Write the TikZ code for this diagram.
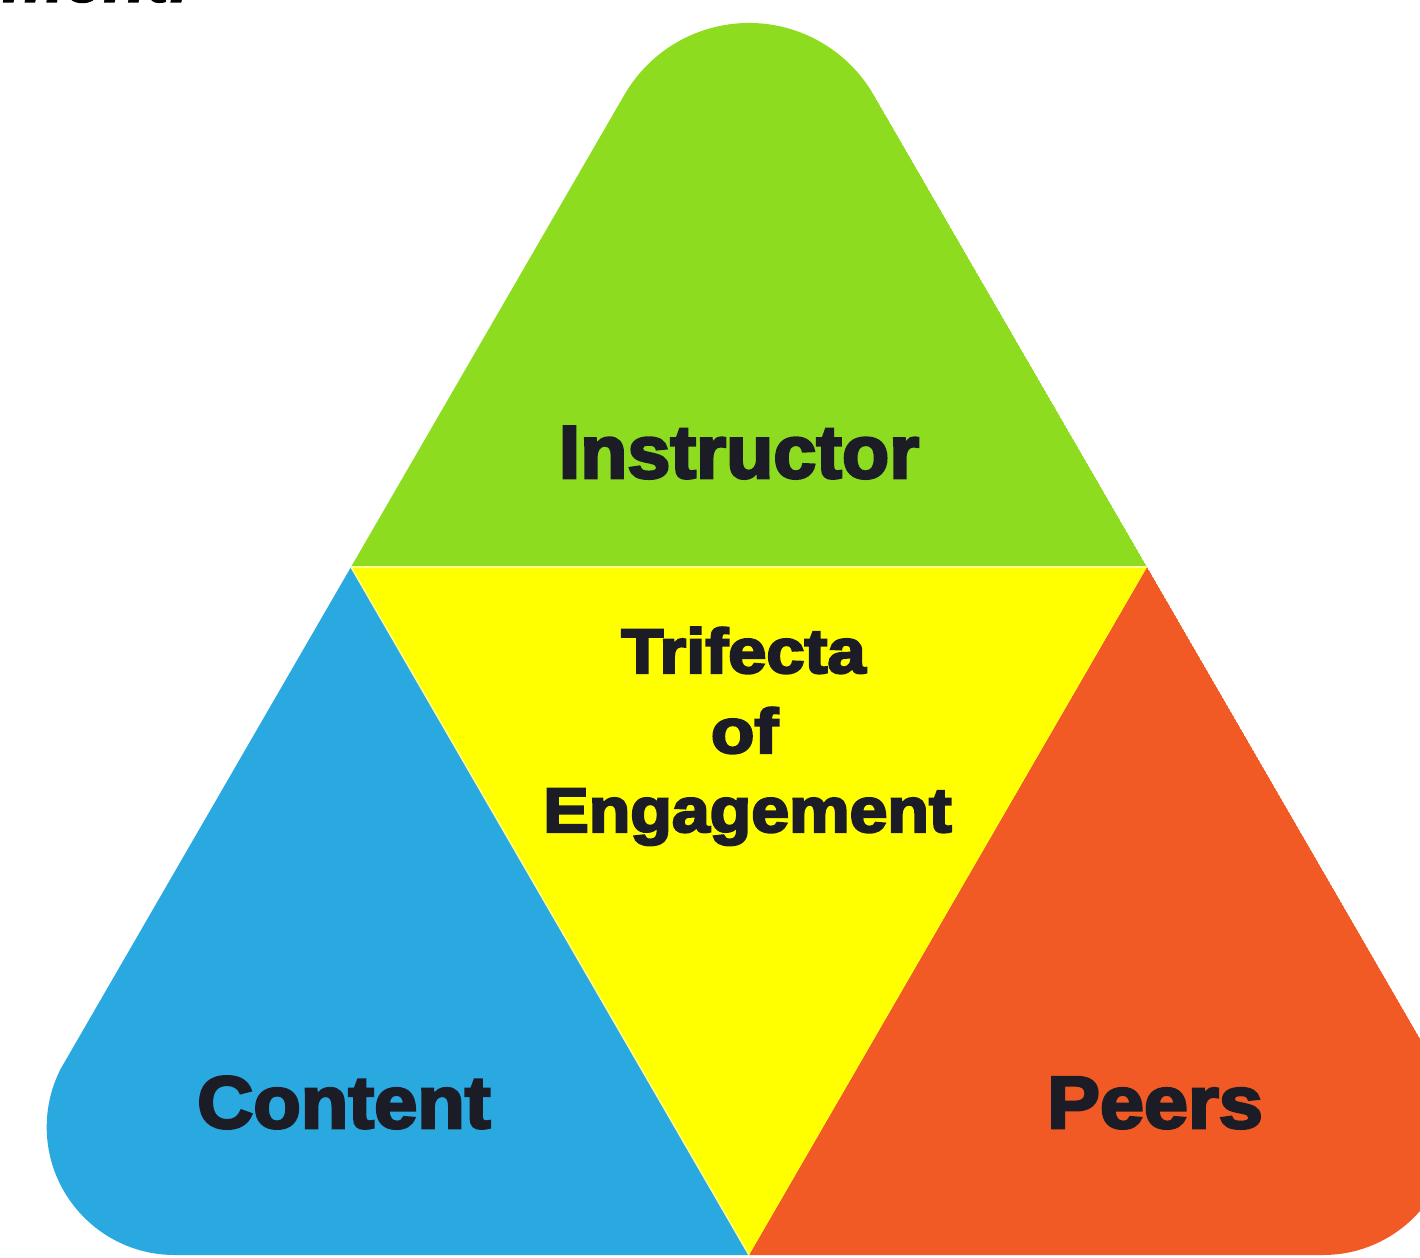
\documentclass[tikz,border=0pt]{standalone}
\usepackage{fontspec}
\usepackage{graphicx}
\setmainfont{Liberation Sans}[BoldFeatures={FakeBold=3.5},BoldItalicFeatures={FakeBold=1.5}]
\definecolor{cgreen}{RGB}{141,220,31}
\definecolor{cyellow}{RGB}{255,255,0}
\definecolor{cblue}{RGB}{42,168,224}
\definecolor{corange}{RGB}{241,90,36}
\definecolor{ctext}{RGB}{28,28,38}
\begin{document}
\begin{tikzpicture}[x=1pt,y=1pt,
  biglabel/.style={anchor=base,inner sep=0pt,text=ctext,font=\fontsize{75}{80}\selectfont\bfseries},
  midlabel/.style={anchor=base,inner sep=0pt,text=ctext,font=\fontsize{63}{68}\selectfont\bfseries},
  seam/.style={line width=1.5pt,white!55!cyellow}]
\useasboundingbox (0,0) rectangle (1420,1257);
\coordinate (L) at (351,690);
\coordinate (R) at (1147,690);
\coordinate (B) at (749,2);
\coordinate (T) at (749,1378);
\coordinate (BL) at (-47,2);
\coordinate (BR) at (1545,2);
\begin{scope}
  \clip (174.7,2) arc[start angle=270,end angle=150,radius=128]
    -- (624.3,1162) arc[start angle=150,end angle=30,radius=144]
    -- (1434.15,194) arc[start angle=30,end angle=-90,radius=128] -- cycle;
  \fill[cgreen] (L) -- (T) -- (R) -- cycle;
  \fill[cblue] (BL) -- (L) -- (B) -- cycle;
  \fill[corange] (R) -- (BR) -- (B) -- cycle;
  \fill[cyellow] (L) -- (R) -- (B) -- cycle;
  \draw[seam] (L) -- (R);
  \draw[seam] (L) -- (B);
\end{scope}
\node[biglabel] (instr) at (739,779) {\scalebox{1.03}[1]{Instructor}};
\node[midlabel] (trif) at (743.5,584) {\scalebox{1.09}[1]{Trifecta}};
\node[midlabel] (of) at (744.5,504) {\scalebox{1.13}[1]{of}};
\node[midlabel] (eng) at (747.5,425) {\scalebox{1.08}[1]{Engagement}};
\node[biglabel,font=\fontsize{74}{78}\selectfont\bfseries] (cont) at (344,129) {\scalebox{1.05}[1]{Content}};
\node[biglabel,font=\fontsize{74}{78}\selectfont\bfseries] (peers) at (1155,129) {\scalebox{1.07}[1]{Peers}};
\node[anchor=base west,inner sep=0pt,text=black,font=\fontsize{70}{74}\selectfont\bfseries\itshape] (ment) at (2,1255) {ment.};
\end{tikzpicture}
\end{document}
